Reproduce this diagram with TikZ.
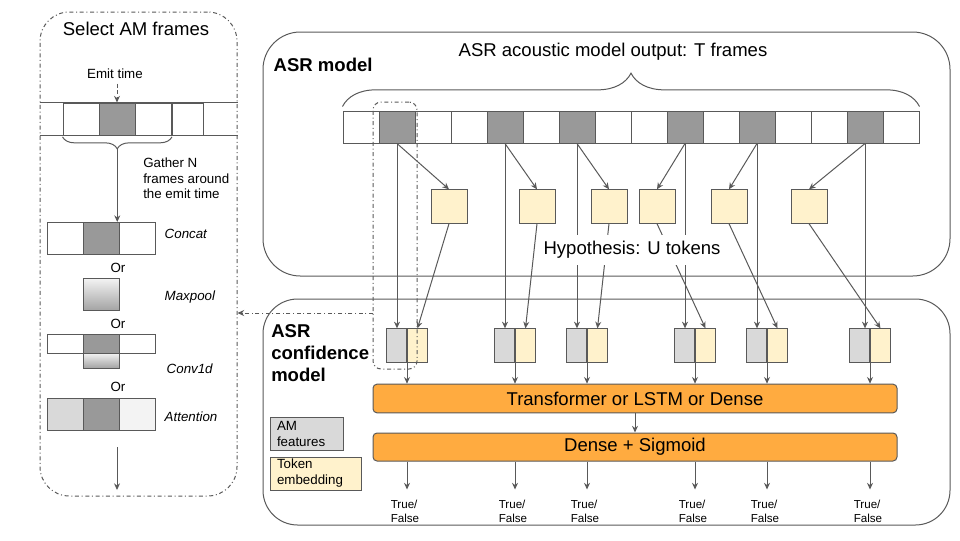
\documentclass[tikz,border=0pt]{standalone}
\usepackage{fontspec}
\setmainfont{Liberation Sans}
\usetikzlibrary{arrows.meta, positioning, decorations.pathreplacing}
\definecolor{linegray}{HTML}{595959}
\definecolor{amdark}{HTML}{999999}
\definecolor{amlight}{HTML}{D9D9D9}
\definecolor{amfaint}{HTML}{F3F3F3}
\definecolor{tokyellow}{HTML}{FFF2CC}
\definecolor{blockorange}{HTML}{FFAB40}

\begin{document}
\begin{tikzpicture}[x=0.75pt, y=-0.75pt,
    every node/.style={font=\fontsize{13.9}{16.5}\selectfont},
    wire/.style={draw=linegray, line width=0.75pt},
    arr/.style={draw=linegray, line width=0.75pt, -{Stealth[length=5pt, width=4.5pt]}},
    dd/.style={draw=linegray, line width=0.75pt, dash dot},
    panel/.style={rectangle, wire, rounded corners=28pt, minimum width=515.25pt},
    cell/.style={rectangle, wire, fill=white, minimum width=27pt, minimum height=24pt, inner sep=0pt},
    amcell/.style={cell, fill=amdark},
    token/.style={rectangle, wire, fill=tokyellow, minimum width=27pt, minimum height=25pt, inner sep=0pt},
    amhalf/.style={rectangle, wire, fill=amlight, minimum width=15pt, minimum height=25pt, inner sep=0pt},
    tokhalf/.style={amhalf, fill=tokyellow},
    block/.style={rectangle, wire, rounded corners=3pt, fill=blockorange, minimum width=393pt, minimum height=21.5pt},
    keybox/.style={rectangle, wire, align=left, inner xsep=5.25pt, inner ysep=1.5pt, minimum height=24.75pt, font=\fontsize{10}{12}\selectfont},
    smalltxt/.style={font=\fontsize{10}{11.6}\selectfont},
    method/.style={anchor=west, font=\fontsize{10}{12}\selectfont\itshape},
    outtxt/.style={anchor=north, align=left, inner xsep=0pt, inner ysep=7.5pt, font=\fontsize{8.7}{10.5}\selectfont},
]
\useasboundingbox (0,0) rectangle (960,540);

% outer boxes
\node[panel, minimum height=183pt] (asr) at (606.5,154) {};
\node[panel, minimum height=169.5pt, rounded corners=26pt] (conf) at (606.5,412) {};
\node[rectangle, dd, rounded corners=22pt, minimum width=147.75pt, minimum height=363pt] (sel) at (138.5,254) {};

\node[anchor=west, font=\fontsize{13.9}{16.5}\selectfont\bfseries] (asrlbl) at (269,65) {ASR model};
\node[anchor=north west, align=left, inner sep=0pt, font=\fontsize{13.9}{16.5}\selectfont\bfseries] (conflbl) at (271,324) {ASR\\confidence\\model};
\node (amout) at (613,52) {ASR acoustic model output: T frames};

% T frames
\foreach \i/\c in {0/white,1/amdark,2/white,3/white,4/amdark,5/white,6/amdark,7/white,
                   8/white,9/amdark,10/white,11/amdark,12/white,13/white,14/amdark,15/white} {
    \node[cell, fill=\c] (f\i) at ({361+36*\i},127) {};
}
\draw[wire, decorate, decoration={brace, amplitude=25pt, raise=3pt}] (f0.north west) -- (f15.north east);

% confidence model blocks
\node[block] (trf) at (635,398.5) {Transformer or LSTM or Dense};
\node[block, minimum height=21pt] (dns) at (635,447) {Dense + Sigmoid};
\draw[arr] (trf) -- (dns);

% tokens, feature pairs and outputs
\foreach \n/\d/\tx/\px in {1/1/449/407, 2/4/537/515, 3/6/609/587, 4/9/657/695, 5/11/729/767, 6/14/809/870} {
    \node[token] (t\n) at (\tx,206.5) {};
    \node[amhalf, anchor=east] (g\n) at (\px,345.5) {};
    \node[tokhalf, anchor=west] (y\n) at (\px,345.5) {};
    \draw[arr] (f\d.south) -- (f\d.south |- g\n.north);
    \draw[arr] (f\d.south) -- (t\n.north);
    \draw[arr] (t\n.south) -- (y\n.north);
    \draw[arr] (g\n.south east) -- (g\n.south east |- trf.north);
    \node[outtxt] (o\n) at ({\px-2},489.5) {True/\\False};
    \draw[arr] (dns.south -| g\n.south east) -- (g\n.south east |- o\n.north);
}

\node[fill=white, inner xsep=3pt, inner ysep=4.5pt] (hyp) at (632,250) {Hypothesis: U tokens};

% key
\node[keybox, fill=amlight, text width=44.25pt] (kam) at (306.5,433.5) {AM\\features};
\node[keybox, fill=tokyellow, text width=57.75pt] (ktok) at (315.5,473.5) {Token\\embedding};

% highlighted frame
\node[rectangle, dd, rounded corners=6pt, minimum width=33pt, minimum height=200.25pt] (hl) at (395,235.5) {};
\coordinate (hlout) at (373,313);
\draw[arr, dash dot] (hlout) -- (hlout -| sel.east);

% select AM frames
\node (seltitle) at (136,29) {Select AM frames};
\node[smalltxt] (emitlbl) at (115,74) {Emit time};
\node[cell] (ec1) at (81,119) {};
\node[amcell] (emit) at (117,119) {};
\node[cell] (ec3) at (153.5,119) {};
\node[cell, minimum width=23.25pt] (ec4) at (187.5,119) {};
\draw[wire] (sel.west |- emit.north) -- (sel.east |- emit.north);
\draw[wire] (sel.west |- emit.south) -- (sel.east |- emit.south);
\draw[arr, densely dashed] (emitlbl.south -| emit.north) -- (emit.north);
\draw[wire, decorate, decoration={brace, mirror, amplitude=9pt, raise=1pt}] (ec1.south west) -- (ec3.south east);
\node[smalltxt, anchor=north west, align=left, inner sep=0pt] (gather) at (143,158) {Gather N\\frames around\\the emit time};

\node[cell] (cc1) at (65,238.5) {};
\node[amcell] (cc2) at (101,238.5) {};
\node[cell] (cc3) at (137,238.5) {};
\node[method] (concat) at (160,234) {Concat};
\coordinate (gtip) at (117.25,149);
\draw[arr] (gtip) -- (gtip |- cc2.north);

\node[smalltxt] (or1) at (118,268) {Or};
\node[cell, top color=amfaint, bottom color=amdark!90] (mp) at (101,294.5) {};
\node[method] (maxpool) at (160,297) {Maxpool};

\node[smalltxt] (or2) at (118,324) {Or};
\node[cell, minimum height=14.25pt] (cv1) at (65,343.5) {};
\node[amcell, minimum height=14.25pt] (cv2) at (101,343.5) {};
\node[cell, minimum height=14.25pt] (cv3) at (137,343.5) {};
\node[cell, minimum height=11.25pt, top color=amfaint, bottom color=amdark!90] (cvg) at (101,360.5) {};
\node[method] (conv) at (162,369) {Conv1d};

\node[smalltxt] (or3) at (118,387) {Or};
\node[cell, fill=amlight] (at1) at (65,414.5) {};
\node[amcell] (at2) at (101,414.5) {};
\node[cell, fill=amfaint] (at3) at (137,414.5) {};
\node[method] (attn) at (160,417) {Attention};

\coordinate (selin) at (117,447);
\coordinate (selout) at (117,490);
\draw[arr] (selin) -- (selout);
\end{tikzpicture}
\end{document}
